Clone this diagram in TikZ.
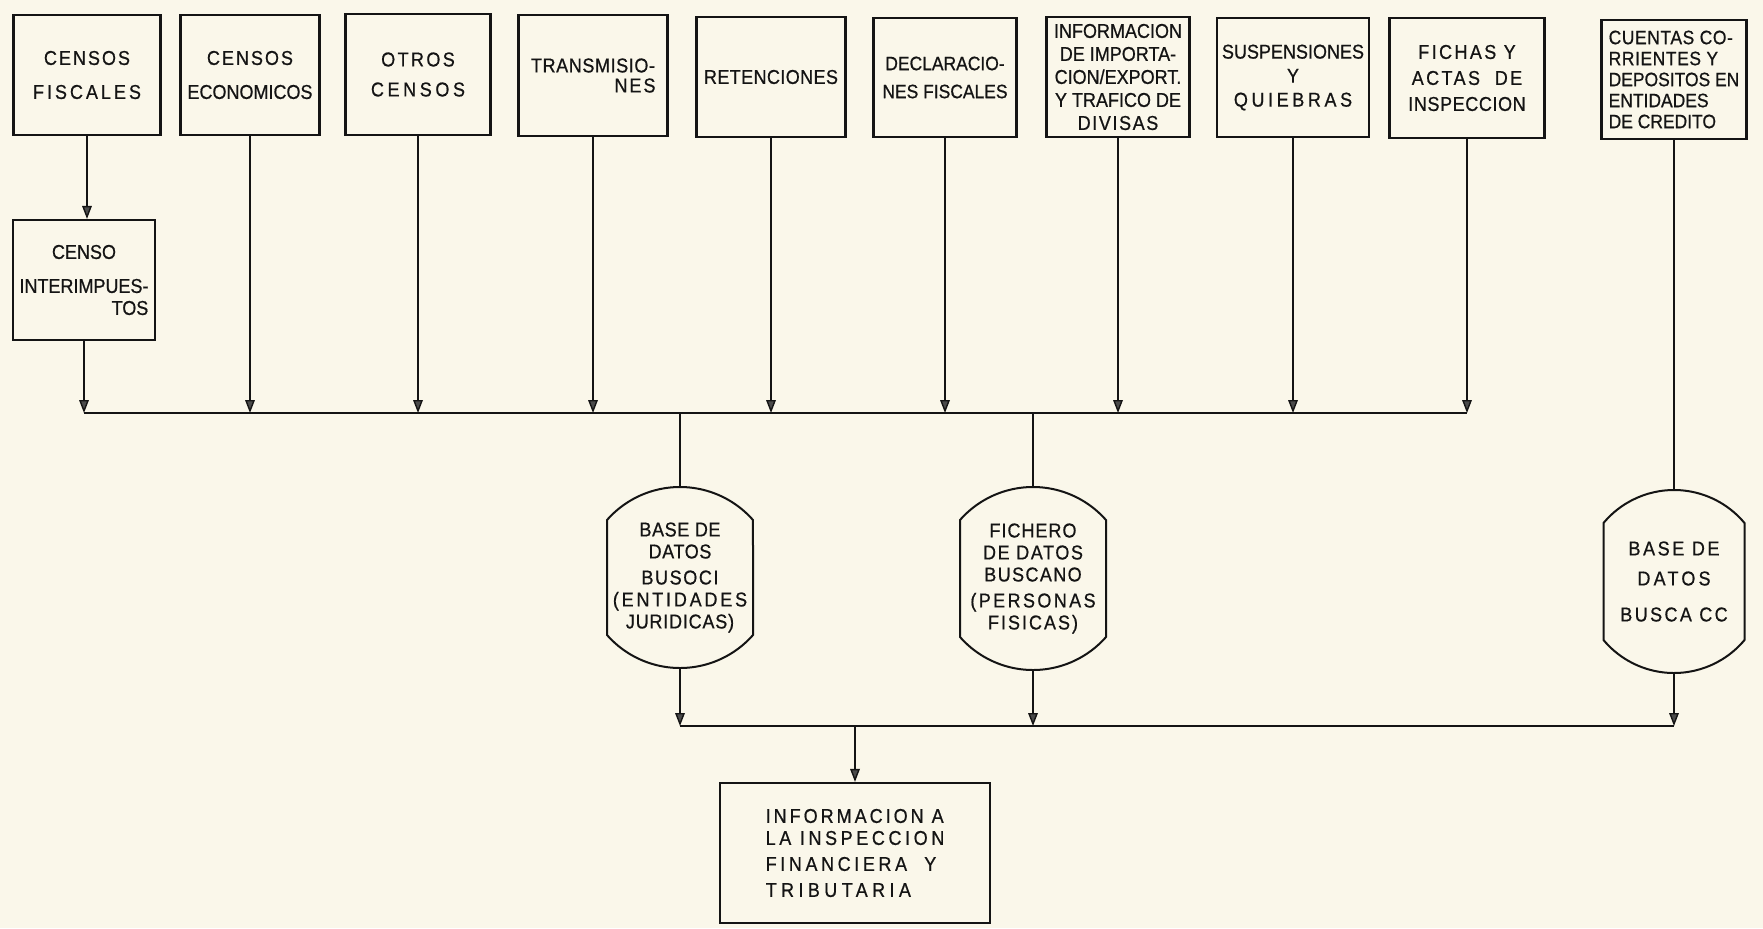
\documentclass[tikz,border=0pt]{standalone}
\usepackage{fontspec}
\setmainfont{Liberation Sans}[FakeStretch=0.9, FakeBold=0.7]
\usetikzlibrary{arrows.meta}
\definecolor{papercol}{RGB}{250,247,234}
\definecolor{inkcol}{RGB}{20,20,20}
\definecolor{tipcol}{RGB}{75,75,75}
\newcommand\ls[2]{{\addfontfeatures{LetterSpace=#1}#2}}
\newcommand\cylshape[4]{%
  \pgfmathsetmacro\cylR{(#4*#4+1089)/132}%
  \pgfmathsetmacro\cylT{asin(#4*0.5/\cylR)}%
  \pgfmathsetmacro\cylA{90+\cylT}%
  \pgfmathsetmacro\cylB{90-\cylT}%
  \pgfmathsetmacro\cylC{-90+\cylT}%
  \pgfmathsetmacro\cylD{-90-\cylT}%
  \draw[cylline] (#1-#4,#2+33) arc[start angle=\cylA, end angle=\cylB, radius=\cylR pt]
    -- (#1+#4,#3-33) arc[start angle=\cylC, end angle=\cylD, radius=\cylR pt] -- cycle;}
\begin{document}
\begin{tikzpicture}[x=0.5pt,y=-0.5pt,
  box/.style={draw=inkcol, line width=1.1pt, align=center, inner sep=1.5pt, text=inkcol,
    font=\fontsize{10}{11}\selectfont},
  cylnode/.style={align=center, inner sep=0pt, text=inkcol, font=\fontsize{10}{11}\selectfont},
  cylline/.style={draw=inkcol, line width=1pt},
  conn/.style={draw=inkcol, line width=0.7pt},
  arr/.style={conn, -{Triangle[length=6.5pt,width=4.8pt,fill=tipcol]}}]
\fill[papercol] (0,0) rectangle (1763,928);
\useasboundingbox (0,0) rectangle (1763,928);

% top row
\node[box, minimum width=73.5pt, minimum height=60pt] (b1) at (87,75)
  {\ls{10}{CENSOS}\\[6pt]\ls{15}{FISCALES}};
\node[box, minimum width=69.5pt, minimum height=60pt] (b2) at (250,75)
  {\ls{10}{CENSOS}\\[6pt]ECONOMICOS};
\node[box, minimum width=72.5pt, minimum height=60.5pt] (b3) at (418,74.5)
  {\ls{12}{OTROS}\\[4pt]\ls{18}{CENSOS}};
\node[box, minimum width=74.5pt, minimum height=60.5pt] (b4) at (593,75.5)
  {\ls{3}{TRANSMISIO-}\\[-1pt]\hspace*{42pt}\ls{10}{NES}};
\node[box, minimum width=74.5pt, minimum height=60pt] (b5) at (771,77)
  {\ls{2}{RETENCIONES}};
\node[box, minimum width=71.5pt, minimum height=59.5pt, font=\fontsize{9.7}{11}\selectfont] (b6) at (945,77.5)
  {DECLARACIO-\\[3pt]NES FISCALES};
\node[box, minimum width=71.5pt, minimum height=60pt, inner sep=1pt, font=\fontsize{10}{11.5}\selectfont] (b7) at (1118,77)
  {INFORMACION\\DE IMPORTA-\\CION/EXPORT.\\Y TRAFICO DE\\\ls{8}{DIVISAS}};
\node[box, minimum width=76pt, minimum height=59.5pt] (b8) at (1293,77.5)
  {SUSPENSIONES\\[1pt]Y\\[1pt]\ls{18}{QUIEBRAS}};
\node[box, minimum width=77.5pt, minimum height=60pt] (b9) at (1467,78)
  {\ls{12}{FICHAS Y}\\[2pt]\ls{12}{ACTAS\ \ DE}\\[2pt]\ls{3}{INSPECCION}};
\node[box, minimum width=72.5pt, minimum height=59.5pt, align=left, inner sep=1pt, font=\fontsize{9.7}{10.5}\selectfont] (b10) at (1674,79.5)
  {\ls{3}{CUENTAS CO-}\\\ls{3}{RRIENTES Y}\\DEPOSITOS EN\\ENTIDADES\\DE CREDITO};
\node[box, minimum width=71pt, minimum height=60pt] (ip) at (84,280)
  {CENSO\\[6pt]INTERIMPUES-\\\hspace*{46pt}TOS};

% databases
\node[cylnode, minimum width=73pt, minimum height=90.5pt] (c1) at (680,577.5)
  {\ls{3}{BASE DE}\\\ls{3}{DATOS}\\[2pt]\ls{8}{BUSOCI}\\\ls{14}{(ENTIDADES}\\\ls{4}{JURIDICAS)}};
\cylshape{680}{487}{668}{73}
\node[cylnode, minimum width=73pt, minimum height=91.5pt] (c2) at (1033,578.5)
  {\ls{5}{FICHERO}\\\ls{8}{DE DATOS}\\\ls{7}{BUSCANO}\\[2pt]\ls{12}{(PERSONAS}\\\ls{10}{FISICAS)}};
\cylshape{1033}{487}{670}{73}
\node[cylnode, minimum width=70.5pt, minimum height=91.5pt] (c3) at (1674,581.5)
  {\ls{13}{BASE DE}\\[4pt]\ls{16}{DATOS}\\[7pt]\ls{12}{BUSCA CC}};
\cylshape{1674}{490}{673}{70.5}

% final box
\node[box, minimum width=135pt, minimum height=70pt, align=left] (fb) at (855,853)
  {\ls{15}{INFORMACION A}\\\ls{18}{LA INSPECCION}\\[2pt]\ls{18}{FINANCIERA\ \ Y}\\[2pt]\ls{22}{TRIBUTARIA}};

% upper bus
\coordinate (bL) at (84,413);
\coordinate (bR) at (1467,413);
\draw[conn] (bL) -- (bR);
\draw[arr] (b1.south) -- (b1.south |- ip.north);
\foreach \n in {ip,b2,b3,b4,b5,b6,b7,b8,b9}
  \draw[arr] (\n.south) -- (\n.south |- bL);
\draw[conn] (c1.north |- bL) -- (c1.north);
\draw[conn] (c2.north |- bL) -- (c2.north);
\draw[conn] (b10.south) -- (c3.north);

% lower bus
\coordinate (dL) at (680,726);
\coordinate (dR) at (1674,726);
\draw[conn] (dL) -- (dR);
\foreach \n in {c1,c2,c3}
  \draw[arr] (\n.south) -- (\n.south |- dL);
\draw[arr] (fb.north |- dL) -- (fb.north);
\end{tikzpicture}
\end{document}
